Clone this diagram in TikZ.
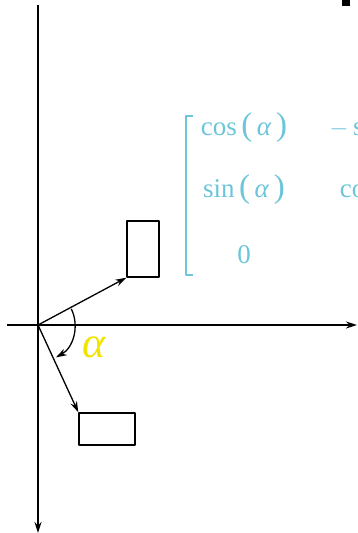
\documentclass[tikz,border=0pt]{standalone}
\usepackage{fontspec}
\setmainfont{Liberation Serif}
\usetikzlibrary{arrows.meta}
\definecolor{matcyan}{RGB}{108,197,216}
\definecolor{angyellow}{RGB}{240,228,0}
\newcommand{\bigparen}[1]{{\fontsize{33}{33}\selectfont #1}}
\newcommand{\alphagl}{\textit{α}}
\tikzset{
  box/.style={draw, line width=1.4pt, inner sep=0pt},
  vec/.style={-{Stealth[length=11pt,width=7pt]}, line width=1.3pt},
  axis/.style={-{Stealth[length=11pt,width=7pt]}, line width=1.8pt},
  entry/.style={text=matcyan, font=\fontsize{27}{27}\selectfont, inner sep=0pt}
}
\begin{document}
\begin{tikzpicture}[x=1pt, y=-1pt, line join=round]
			\useasboundingbox (0,0) rectangle (357,533);
			\clip (0,0) rectangle (357,533);
			% axes
			\coordinate (O) at (38,325);
			\coordinate (xl) at (7,325);
			\coordinate (xr) at (357,325);
			\coordinate (yt) at (38,5);
			\coordinate (yb) at (38,533);
			\draw[axis] (xl) -- (xr);
			\draw[axis] (yt) -- (yb);
			\fill (342,0) rectangle (350,6);
			% boxes and vectors
			\node[box, minimum width=32pt, minimum height=56pt] (upbox) at (143,249) {};
			\node[box, minimum width=56pt, minimum height=32pt] (lowbox) at (107,429) {};
			\draw[vec] (O) -- (upbox.south west);
			\draw[vec] (O) -- (lowbox.north west);
			\draw[vec] ([shift={(-26:37)}]O) arc (-26:61:37);
			\node[text=angyellow, font=\fontsize{44}{44}\selectfont] (alpha) at (94,347) {\alphagl};
			% matrix
			\draw[matcyan, line width=1.4pt] (193,116) -- (186,116) -- (186,275) -- (193,275);
			\node[entry] (m11) at (244,128) {cos\,\bigparen{(}\,\alphagl\,\bigparen{)}};
			\node[entry] (m12) at (382,128) {$-$\,sin\,\bigparen{(}\,\alphagl\,\bigparen{)}};
			\node[entry] (m21) at (244,190) {sin\,\bigparen{(}\,\alphagl\,\bigparen{)}};
			\node[entry] (m22) at (383,190) {cos\,\bigparen{(}\,\alphagl\,\bigparen{)}};
			\node[entry] (m31) at (244,255) {0};
			\node[entry] (m32) at (383,255) {0};
		\end{tikzpicture}
\end{document}
